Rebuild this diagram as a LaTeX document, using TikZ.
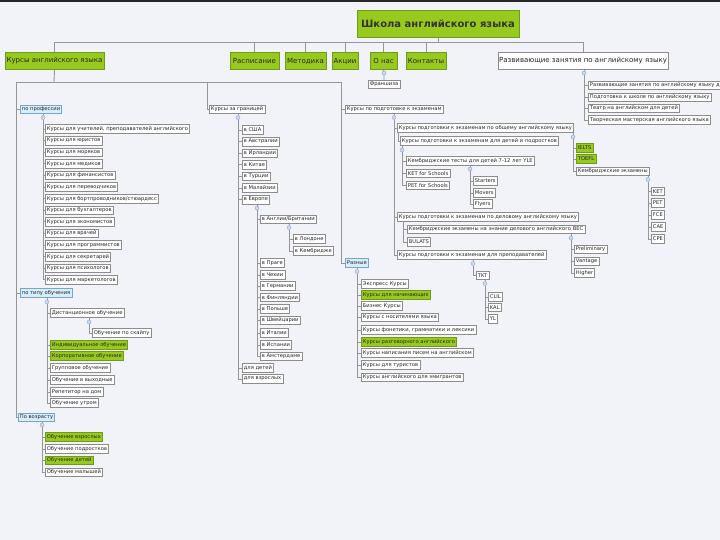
\documentclass[tikz,border=0pt]{standalone}
\usepackage{fontspec}
\setmainfont{DejaVu Sans}
\usetikzlibrary{backgrounds}
\definecolor{bg}{RGB}{241,243,248}
\definecolor{grn}{RGB}{152,202,30}
\definecolor{grnbd}{RGB}{110,155,25}
\definecolor{leafbd}{RGB}{140,140,140}
\definecolor{lblue}{RGB}{214,237,250}
\definecolor{lbluebd}{RGB}{120,165,205}
\definecolor{lineclr}{RGB}{150,150,150}
\definecolor{dotfill}{RGB}{205,218,240}
\definecolor{dotbd}{RGB}{140,165,210}
\newcommand\myfs[1]{\fontsize{#1}{#1}\selectfont}
\tikzset{
 leaf/.style={draw=leafbd, fill=white, font=\myfs{5.2}, inner xsep=1.6pt, inner ysep=0pt, minimum height=8.5pt, anchor=west, line width=0.6pt, text=black!85},
 gleaf/.style={leaf, fill=grn, draw=grnbd},
 cat/.style={leaf, fill=lblue, draw=lbluebd},
 lvl/.style={fill=grn, draw=grnbd, line width=0.8pt, font=\myfs{7}, minimum height=17pt, inner sep=0pt, text=black!85},
 lvlw/.style={lvl, fill=white, draw=leafbd},
 rootn/.style={fill=grn, draw=grnbd, line width=0.8pt, font=\myfs{10}\bfseries, minimum width=162pt, minimum height=27pt, inner sep=0pt, text=black!80},
 dot/.style={circle, draw=dotbd, fill=dotfill, line width=0.4pt, inner sep=0pt, minimum size=4pt},
 conn/.style={draw=lineclr, line width=0.9pt},
}
\begin{document}
\begin{tikzpicture}[x=1pt,y=-1pt]
\useasboundingbox (0,0) rectangle (720,540);
\clip (0,0) rectangle (720,540);
% root and level 1
\node[rootn] (root) at (438,23.5) {Школа английского языка};
\coordinate (bus) at (438,42);
\node[lvl, minimum width=99pt] (kursy) at (54.5,61) {Курсы английского языка};
\node[lvl, minimum width=49pt] (rasp) at (254.5,61) {Расписание};
\node[lvl, minimum width=41pt] (metod) at (305.5,61) {Методика};
\node[lvl, minimum width=26pt] (akcii) at (345,61) {Акции};
\node[lvl, minimum width=27pt] (onas) at (383.5,61) {О нас};
\node[lvl, minimum width=40pt] (kont) at (426,61) {Контакты};
\node[lvlw, minimum width=170pt] (razv) at (583,61) {Развивающие занятия по английскому языку};
\node[dot] (donas) at (384,73) {};
\node[leaf, anchor=center] (fran) at (384,84.5) {Франшиза};
% right: razv children
\node[dot] (drazv) at (584,73) {};
\node[leaf] (r1) at (588,85.5) {Развивающие занятия по английскому языку для детей};
\node[leaf] (r2) at (588,97.5) {Подготовка к школе по английскому языку};
\node[leaf] (r3) at (588,108.5) {Театр на английском для детей};
\node[leaf] (r4) at (588,120) {Творческая мастерская английского языка};
% courses bus
\coordinate (kb) at (54,82);
\coordinate (kl) at (16,82);
\coordinate (ka) at (207,82);
\coordinate (kr) at (341,82);
% by profession
\node[cat] (prof) at (20,109.5) {по профессии};
\node[dot] (dprof) at (43,117.5) {};
\node[leaf] (p1) at (45,129) {Курсы для учителей, преподавателей английского};
\node[leaf] (p2) at (45,140.6) {Курсы для юристов};
\node[leaf] (p3) at (45,152.2) {Курсы для моряков};
\node[leaf] (p4) at (45,163.8) {Курсы для медиков};
\node[leaf] (p5) at (45,175.4) {Курсы для финансистов};
\node[leaf] (p6) at (45,187) {Курсы для переводчиков};
\node[leaf] (p7) at (45,198.6) {Курсы для бортпроводников/стюардесс};
\node[leaf] (p8) at (45,210.2) {Курсы для бухгалтеров};
\node[leaf] (p9) at (45,221.8) {Курсы для экономистов};
\node[leaf] (p10) at (45,233.4) {Курсы для врачей};
\node[leaf] (p11) at (45,245) {Курсы для программистов};
\node[leaf] (p12) at (45,256.6) {Курсы для секретарей};
\node[leaf] (p13) at (45,268.2) {Курсы для психологов};
\node[leaf] (p14) at (45,279.8) {Курсы для маркетологов};
% by type
\node[cat] (tip) at (20,293) {по типу обучения};
\node[dot] (dtip) at (47,302) {};
\node[leaf] (t1) at (50,313) {Дистанционное обучение};
\node[dot] (ddist) at (89,322) {};
\node[leaf] (t1a) at (92,333) {Обучение по скайпу};
\node[gleaf] (t2) at (50,345) {Индивидуальное обучение};
\node[gleaf] (t3) at (50,356) {Корпоративное обучение};
\node[leaf] (t4) at (50,368) {Групповое обучение};
\node[leaf] (t5) at (50,380) {Обучение в выходные};
\node[leaf] (t6) at (50,392) {Репетитор на дом};
\node[leaf] (t7) at (50,403) {Обучение утром};
% by age
\node[cat] (age) at (18,417.5) {По возрасту};
\node[dot] (dage) at (42,425) {};
\node[gleaf] (a1) at (45,437) {Обучение взрослых};
\node[leaf] (a2) at (45,449) {Обучение подростков};
\node[gleaf] (a3) at (45,460.5) {Обучение детей};
\node[leaf] (a4) at (45,472.5) {Обучение малышей};
% abroad
\node[leaf] (abroad) at (209,109.5) {Курсы за границей};
\node[dot] (dabr) at (238,117.5) {};
\node[leaf] (c1) at (242,130) {в США};
\node[leaf] (c2) at (242,141.6) {в Австралии};
\node[leaf] (c3) at (242,153.2) {в Ирландии};
\node[leaf] (c4) at (242,164.8) {в Китае};
\node[leaf] (c5) at (242,176.4) {в Турции};
\node[leaf] (c6) at (242,188) {в Малайзии};
\node[leaf] (c7) at (242,199.6) {в Европе};
\node[dot] (deur) at (257,208) {};
\node[leaf] (e1) at (260,219.5) {в Англии/Британии};
\node[dot] (deng) at (289,227.5) {};
\node[leaf] (e1a) at (293,239) {в Лондоне};
\node[leaf] (e1b) at (293,251) {в Кембридже};
\node[leaf] (e2) at (260,263) {в Праге};
\node[leaf] (e3) at (260,275) {в Чехии};
\node[leaf] (e4) at (260,286) {в Германии};
\node[leaf] (e5) at (260,297.5) {в Финляндии};
\node[leaf] (e6) at (260,309) {в Польше};
\node[leaf] (e7) at (260,320.5) {в Швейцарии};
\node[leaf] (e8) at (260,333) {в Италии};
\node[leaf] (e9) at (260,345) {в Испании};
\node[leaf] (e10) at (260,356.5) {в Амстердаме};
\node[leaf] (c8) at (242,368) {для детей};
\node[leaf] (c9) at (242,379) {для взрослых};
% exams
\node[leaf] (exam) at (345,109.5) {Курсы по подготовке к экзаменам};
\node[dot] (dexam) at (394,117.5) {};
\node[leaf] (x1) at (397,128) {Курсы подготовки к экзаменам по общему английскому языку};
\coordinate (x1l) at (398,132.5);
\node[leaf] (x1a) at (400,141) {Курсы подготовки к экзаменам для детей и подростков};
\node[dot] (dkid) at (402,150) {};
\node[leaf] (k1) at (406,161) {Кембриджские тесты для детей 7-12 лет YLE};
\node[dot] (dyle) at (470,169) {};
\node[leaf] (s1) at (473,181) {Starters};
\node[leaf] (s2) at (473,193) {Movers};
\node[leaf] (s3) at (473,204) {Flyers};
\node[leaf] (k2) at (406,173.5) {KET for Schools};
\node[leaf] (k3) at (406,185.5) {PET for Schools};
\node[dot] (dgen) at (573,137) {};
\node[gleaf] (g1) at (576,148) {IELTS};
\node[gleaf] (g2) at (576,159) {TOEFL};
\node[leaf] (g3) at (576,171.5) {Кембриджские экзамены};
\node[dot] (dcam) at (648,179.5) {};
\node[leaf] (m1) at (651,191.5) {KET};
\node[leaf] (m2) at (651,203) {PET};
\node[leaf] (m3) at (651,215) {FCE};
\node[leaf] (m4) at (651,227) {CAE};
\node[leaf] (m5) at (651,239) {CPE};
\node[leaf] (x2) at (397,217) {Курсы подготовки к экзаменам по деловому английскому языку};
\coordinate (x2l) at (403,221.5);
\node[leaf] (b1) at (407,229.5) {Кембриджские экзамены на знание делового английского BEC};
\node[dot] (dbec) at (571,238) {};
\node[leaf] (v1) at (574,249.5) {Preliminary};
\node[leaf] (v2) at (574,261.5) {Vantage};
\node[leaf] (v3) at (574,273) {Higher};
\node[leaf] (b2) at (407,242) {BULATS};
\node[leaf] (x3) at (397,255) {Курсы подготовки к экзаменам для преподавателей};
\node[dot] (dtea) at (473,263.5) {};
\node[leaf] (tkt) at (476,275.5) {TKT};
\node[dot] (dtkt) at (485,283.5) {};
\node[leaf] (y1) at (488,297) {CLIL};
\node[leaf] (y2) at (488,307.5) {KAL};
\node[leaf] (y3) at (488,319) {YL};
% other
\node[cat] (oth) at (345,263) {Разные};
\node[dot] (doth) at (357,271.5) {};
\node[leaf] (o1) at (361,284) {Экспресс Курсы};
\node[gleaf] (o2) at (361,295) {Курсы для начинающих};
\node[leaf] (o3) at (361,306) {Бизнес Курсы};
\node[leaf] (o4) at (361,317.5) {Курсы с носителями языка};
\node[leaf] (o5) at (361,330) {Курсы фонетики, грамматики и лексики};
\node[gleaf] (o6) at (361,342) {Курсы разговорного английского};
\node[leaf] (o7) at (361,353) {Курсы написания писем на английском};
\node[leaf] (o8) at (361,365) {Курсы для туристов};
\node[leaf] (o9) at (361,377.5) {Курсы английского для эмигрантов};
\begin{pgfonlayer}{background}
\fill[bg] (0,0) rectangle (720,540);
\fill[black!85] (0,0) rectangle (720,2);
\draw[conn] (root.south) -- (bus);
\foreach \n in {kursy,rasp,metod,akcii,onas,kont,razv} \draw[conn] (bus) -| (\n.north);
\draw[conn] (onas.south) -- (donas) -- (fran.north);
\draw[conn] (razv.south -| drazv) -- (drazv);
\foreach \n in {r1,r2,r3,r4} \draw[conn] (drazv) |- (\n.west);
\draw[conn] (kursy.south) -- (kb);
\draw[conn] (kl) -- (kr);
\draw[conn] (kl) |- (prof.west);
\draw[conn] (kl) |- (tip.west);
\draw[conn] (kl) |- (age.west);
\draw[conn] (ka) |- (abroad.west);
\draw[conn] (kr) |- (exam.west);
\draw[conn] (kr) |- (oth.west);
\draw[conn] (prof.south -| dprof) -- (dprof);
\foreach \n in {p1,p2,p3,p4,p5,p6,p7,p8,p9,p10,p11,p12,p13,p14} \draw[conn] (dprof) |- (\n.west);
\draw[conn] (tip.south -| dtip) -- (dtip);
\foreach \n in {t1,t2,t3,t4,t5,t6,t7} \draw[conn] (dtip) |- (\n.west);
\draw[conn] (t1.south -| ddist) -- (ddist) |- (t1a.west);
\draw[conn] (age.south -| dage) -- (dage);
\foreach \n in {a1,a2,a3,a4} \draw[conn] (dage) |- (\n.west);
\draw[conn] (abroad.south -| dabr) -- (dabr);
\foreach \n in {c1,c2,c3,c4,c5,c6,c7,c8,c9} \draw[conn] (dabr) |- (\n.west);
\draw[conn] (c7.south -| deur) -- (deur);
\foreach \n in {e1,e2,e3,e4,e5,e6,e7,e8,e9,e10} \draw[conn] (deur) |- (\n.west);
\draw[conn] (e1.south -| deng) -- (deng);
\foreach \n in {e1a,e1b} \draw[conn] (deng) |- (\n.west);
\draw[conn] (exam.south -| dexam) -- (dexam);
\foreach \n in {x1,x2,x3} \draw[conn] (dexam) |- (\n.west);
\draw[conn] (x1l) |- (x1a.west);
\draw[conn] (x1a.south -| dkid) -- (dkid);
\foreach \n in {k1,k2,k3} \draw[conn] (dkid) |- (\n.west);
\draw[conn] (k1.south -| dyle) -- (dyle);
\foreach \n in {s1,s2,s3} \draw[conn] (dyle) |- (\n.west);
\draw[conn] (x1.south -| dgen) -- (dgen);
\foreach \n in {g1,g2,g3} \draw[conn] (dgen) |- (\n.west);
\draw[conn] (g3.south -| dcam) -- (dcam);
\foreach \n in {m1,m2,m3,m4,m5} \draw[conn] (dcam) |- (\n.west);
\draw[conn] (x2l) |- (b1.west);
\draw[conn] (x2l) |- (b2.west);
\draw[conn] (b1.south -| dbec) -- (dbec);
\foreach \n in {v1,v2,v3} \draw[conn] (dbec) |- (\n.west);
\draw[conn] (x3.south -| dtea) -- (dtea) |- (tkt.west);
\draw[conn] (tkt.south -| dtkt) -- (dtkt);
\foreach \n in {y1,y2,y3} \draw[conn] (dtkt) |- (\n.west);
\draw[conn] (oth.south -| doth) -- (doth);
\foreach \n in {o1,o2,o3,o4,o5,o6,o7,o8,o9} \draw[conn] (doth) |- (\n.west);
\end{pgfonlayer}
\end{tikzpicture}
\end{document}
